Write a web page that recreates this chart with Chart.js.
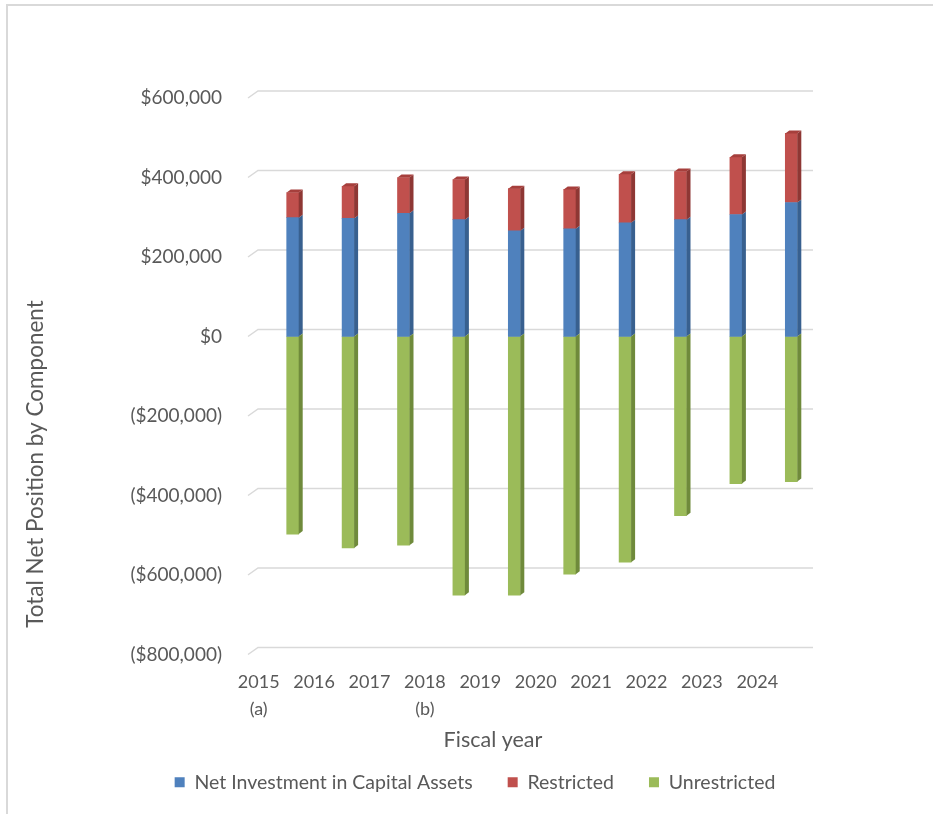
<!DOCTYPE html>
<html>
<head>
<meta charset="utf-8">
<script src="https://cdn.jsdelivr.net/npm/chart.js@4.4.0/dist/chart.umd.min.js"></script>
<style>
  html, body { margin: 0; padding: 0; background: #fff; }
  #wrap { position: relative; width: 933px; height: 814px; }
  #frame { position: absolute; left: 6px; top: 4px; right: 0; bottom: 0;
           border-left: 2px solid #d9d9d9; border-top: 2px solid #d9d9d9; pointer-events: none; }
</style>
</head>
<body>
<div id="wrap">
  <canvas id="myChart" width="933" height="814"></canvas>
  <div id="frame"></div>
</div>
<script>
// fiscal years on the category axis, with footnote markers under two of them
const years = ['2015', '2016', '2017', '2018', '2019', '2020', '2021', '2022', '2023', '2024'];
const yearNotes = ['(a)', '', '', '(b)', '', '', '', '', '', ''];

// net position by component, in dollars
const netInvestment = [299000, 297000, 310000, 294000, 266000, 271000, 286000, 294000, 307000, 337000];
const restricted = [63000, 81000, 90000, 101000, 106000, 99000, 122000, 121000, 144000, 174000];
const unrestricted = [-497000, -532000, -525000, -651000, -651000, -598000, -568000, -451000, -370000, -365000];

const seriesNames = ['Net Investment in Capital Assets', 'Restricted', 'Unrestricted'];
const yMin = -800000, yMax = 600000, yStep = 200000;

const frontColors = ['#4f81bd', '#c0504d', '#9bbb59'];
const sideColors = ['#38608f', '#8e3734', '#6f8a3b'];
const topColors = ['#4676ae', '#a63f3c', '#89a74c'];
const FONT = 'Lato, "Open Sans", sans-serif';
const TEXT = '#595959';

function money(v) {
  if (v === 0) return '$0';
  const s = '$' + Math.abs(v).toLocaleString('en-US');
  return v < 0 ? '(' + s + ')' : s;
}

// back-wall gridlines with the little floor bevel on the left
const backGrid = {
  id: 'backGrid',
  beforeDatasetsDraw(chart) {
    const ctx = chart.ctx, ca = chart.chartArea, ys = chart.scales.y;
    ctx.save();
    ctx.strokeStyle = '#d9d9d9';
    ctx.lineWidth = 1.5;
    ys.ticks.forEach(t => {
      const py = ys.getPixelForValue(t.value);
      ctx.beginPath();
      ctx.moveTo(ca.left - 17, py);
      ctx.lineTo(ca.left - 7, py - 7);
      ctx.lineTo(ca.right - 6, py - 7);
      ctx.stroke();
    });
    ctx.restore();
  }
};

// fake 3D: a darker side face on every bar and a top face on the highest segment
const depth3d = {
  id: 'depth3d',
  afterDatasetsDraw(chart) {
    const ctx = chart.ctx;
    const dx = 4, dy = 3;
    const topMost = [];
    chart.data.datasets.forEach((ds, di) => {
      ds.data.forEach((v, i) => { if (v > 0) topMost[i] = di; });
    });
    ctx.save();
    chart.data.datasets.forEach((ds, di) => {
      const meta = chart.getDatasetMeta(di);
      meta.data.forEach((bar, i) => {
        const p = bar.getProps(['x', 'y', 'base', 'width'], true);
        const l = p.x - p.width / 2, r = p.x + p.width / 2;
        const top = Math.min(p.y, p.base), bottom = Math.max(p.y, p.base);
        ctx.fillStyle = sideColors[di];
        ctx.beginPath();
        ctx.moveTo(r, top);
        ctx.lineTo(r + dx, top - dy);
        ctx.lineTo(r + dx, bottom - dy);
        ctx.lineTo(r, bottom);
        ctx.closePath();
        ctx.fill();
        if (topMost[i] === di) {
          ctx.fillStyle = topColors[di];
          ctx.beginPath();
          ctx.moveTo(l, top);
          ctx.lineTo(l + dx, top - dy);
          ctx.lineTo(r + dx, top - dy);
          ctx.lineTo(r, top);
          ctx.closePath();
          ctx.fill();
        }
      });
    });
    ctx.restore();
  }
};

// axis titles sit where the spreadsheet put them, not centred on the plot
const axisTitles = {
  id: 'axisTitles',
  afterDraw(chart) {
    const ctx = chart.ctx;
    ctx.save();
    ctx.fillStyle = TEXT;
    ctx.textAlign = 'center';
    ctx.textBaseline = 'middle';
    ctx.font = '21.5px ' + FONT;
    ctx.fillText('Fiscal year', 493, 740);
    ctx.font = '22.5px ' + FONT;
    ctx.translate(36, 464);
    ctx.rotate(-Math.PI / 2);
    ctx.fillText('Total Net Position by Component', 0, 0);
    ctx.restore();
  }
};

const labels = years.map((y, i) => yearNotes[i] ? [y, yearNotes[i]] : y);
const values = [netInvestment, restricted, unrestricted];

new Chart(document.getElementById('myChart'), {
  type: 'bar',
  data: {
    labels: labels,
    datasets: seriesNames.map((name, i) => ({
      label: name,
      data: values[i],
      backgroundColor: frontColors[i],
      borderWidth: 0,
      barThickness: 12
    }))
  },
  options: {
    responsive: false,
    animation: false,
    layout: { padding: { left: 131, right: 114, top: 98, bottom: 12 } },
    scales: {
      x: {
        stacked: true,
        grid: { display: false, drawTicks: false },
        border: { display: false },
        ticks: {
          color: TEXT,
          font: { family: FONT, size: 18, lineHeight: 1.5 },
          padding: 14,
          labelOffset: -34,
          maxRotation: 0,
          autoSkip: false
        },
        afterFit(scale) { scale.height = 83; }
      },
      y: {
        stacked: true,
        min: yMin,
        max: yMax,
        grid: { display: false, drawTicks: false },
        border: { display: false },
        ticks: {
          stepSize: yStep,
          color: TEXT,
          font: { family: FONT, size: 19 },
          padding: 43,
          callback: v => money(v)
        },
        afterFit(scale) { scale.width = 134; }
      }
    },
    plugins: {
      legend: {
        position: 'bottom',
        maxHeight: 77,
        labels: {
          boxWidth: 10,
          boxHeight: 10,
          padding: 35,
          color: TEXT,
          font: { family: FONT, size: 19.5 }
        }
      },
      tooltip: { enabled: false }
    }
  },
  plugins: [backGrid, depth3d, axisTitles]
});
</script>
</body>
</html>
